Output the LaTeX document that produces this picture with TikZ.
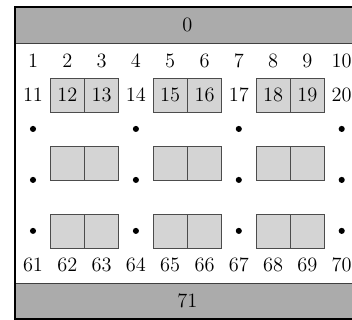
\documentclass[tikz,border=0pt]{standalone}
\begin{document}
\begin{tikzpicture}[
    x=0.651cm, y=-0.645cm,
    every node/.style={align=center, font=\fontsize{11pt}{13pt}\selectfont},
    bar/.style={rectangle, draw=black!75, fill=black!33, minimum width=6.54cm, minimum height=0.684cm, inner sep=0pt},
    cell/.style={rectangle, draw=black!70, fill=black!17, minimum width=0.651cm, minimum height=0.645cm, inner sep=0pt},
    num/.style={inner sep=1pt},
    dot/.style={circle, fill=black, inner sep=0pt, minimum size=3.3pt}
]
\useasboundingbox (0.038,-0.794) rectangle (10.30,8.62);
% top and bottom bars
\node[bar] (top) at (5.5,-0.06) {0};
\node[bar] (bot) at (5.5,8.06) {71};
\draw[line width=1.1pt] (top.north west) rectangle (bot.south east);
% first and last rows
\foreach \k in {1,...,10} {
  \pgfmathtruncatemacro{\m}{60+\k}
  \node[num] (n\k) at (\k,1) {\k};
  \node[num] (n\m) at (\k,7) {\m};
}
% second row
\node[num] (n11) at (1,2) {11};
\node[num] (n14) at (4,2) {14};
\node[num] (n17) at (7,2) {17};
\node[num] (n20) at (10,2) {20};
\foreach \k in {2,3,5,6,8,9} {
  \pgfmathtruncatemacro{\m}{10+\k}
  \node[cell] (n\m) at (\k,2) {\m};
  \node[cell] (b4\k) at (\k,4) {};
  \node[cell] (b6\k) at (\k,6) {};
}
% vertical dots
\foreach \k in {1,4,7,10} {
  \node[dot] (d3\k) at (\k,3) {};
  \node[dot] (d4\k) at (\k,4.5) {};
  \node[dot] (d6\k) at (\k,6) {};
}
\end{tikzpicture}
\end{document}
